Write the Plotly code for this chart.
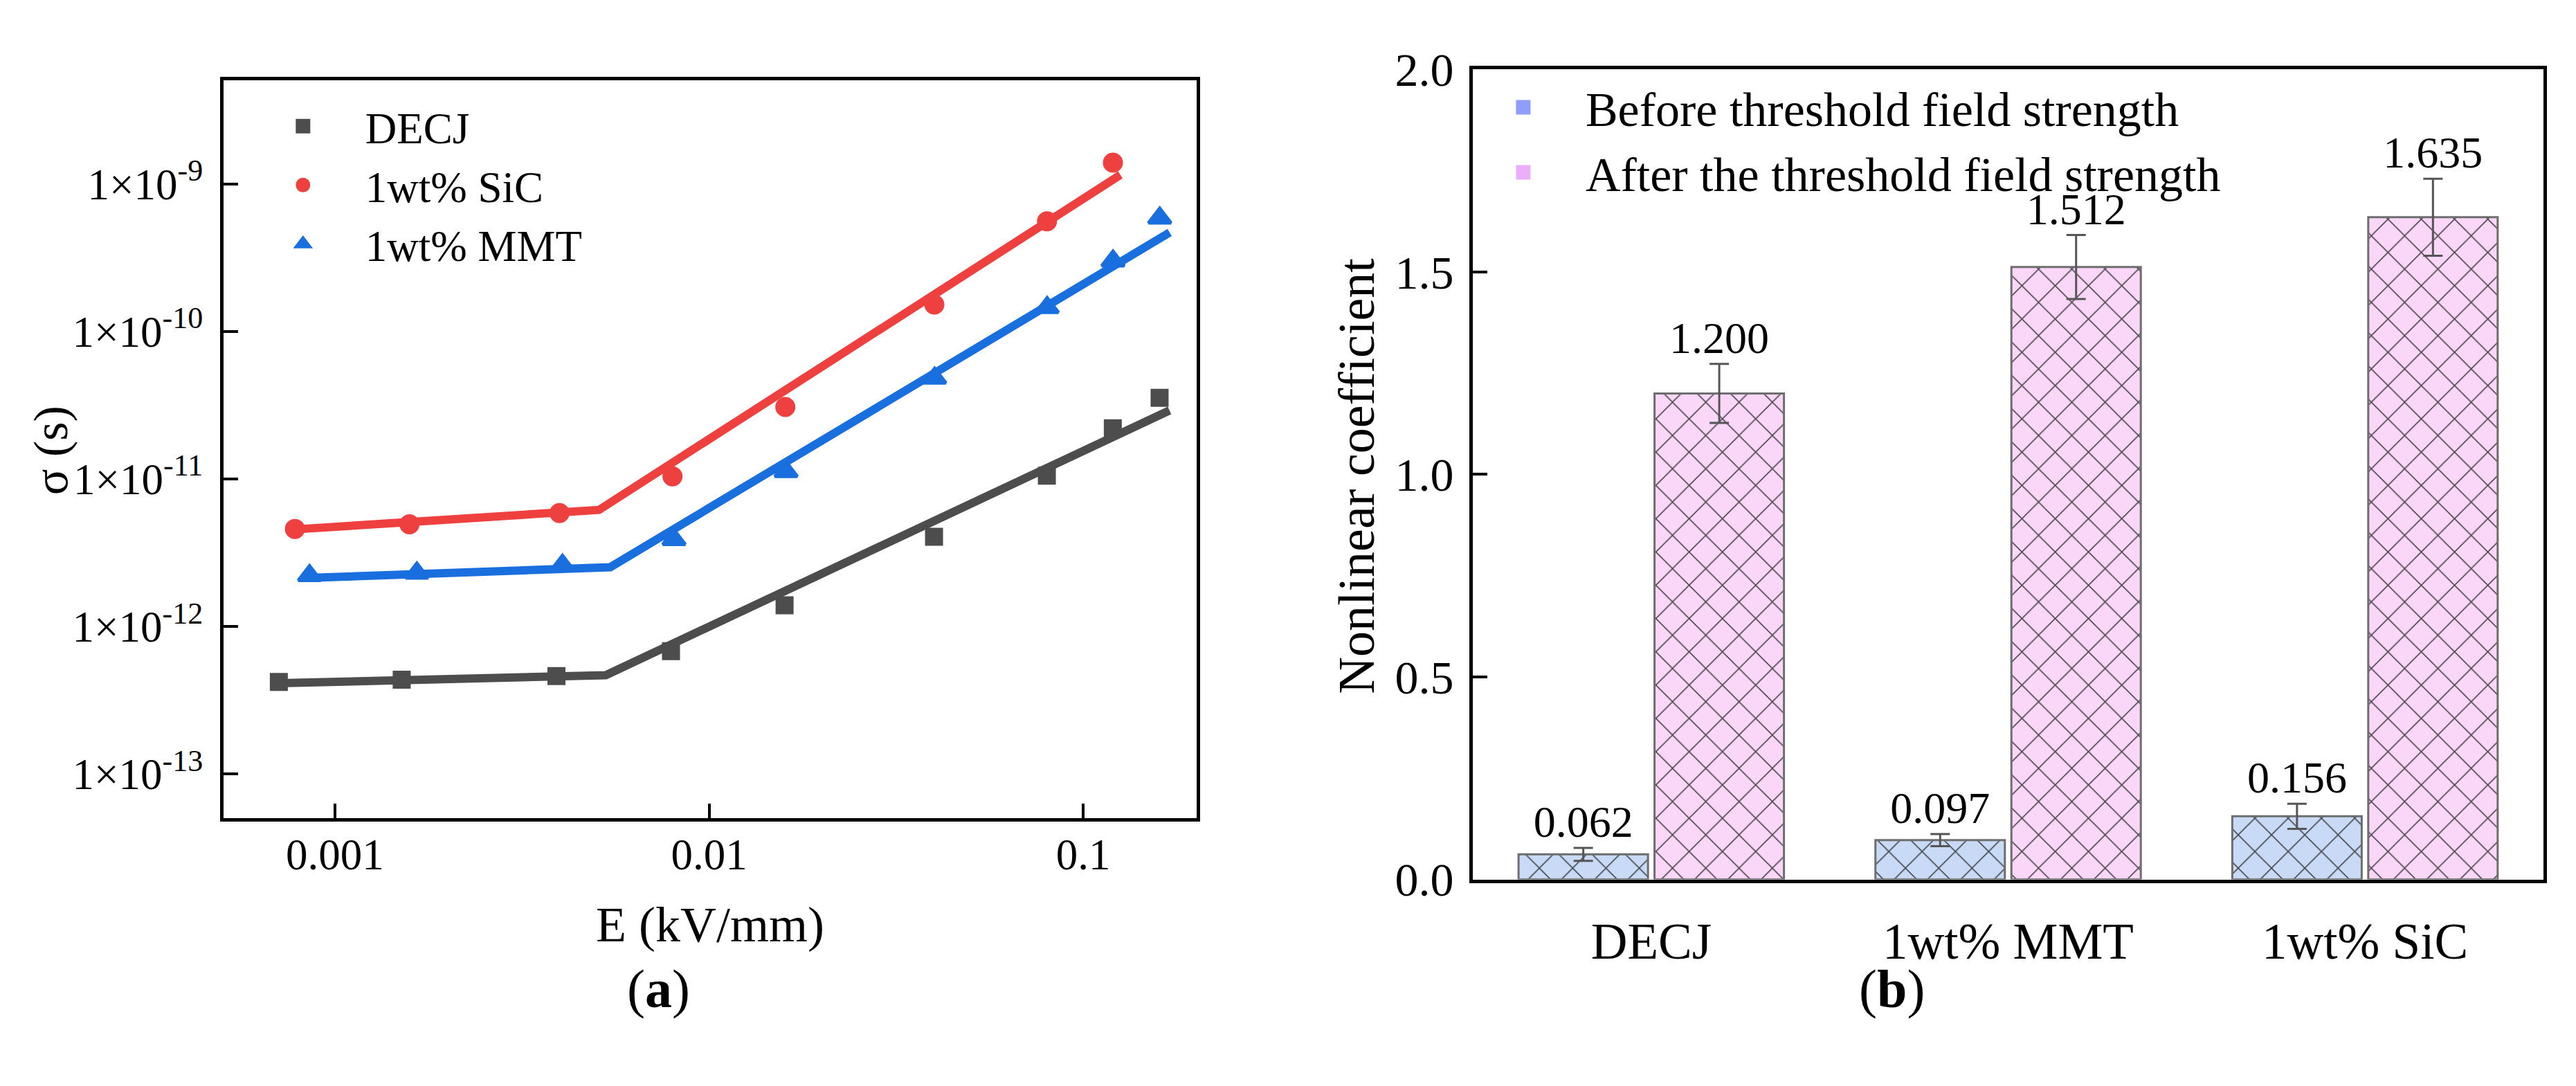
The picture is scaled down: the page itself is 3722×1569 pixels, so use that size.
import plotly.graph_objects as go

# (a) conductivity against field strength
E_kV_mm = [0.0008, 0.0016, 0.004, 0.008, 0.016, 0.04, 0.08, 0.12, 0.16]
sigma_DECJ = [4.2e-13, 4.35e-13, 4.6e-13, 6.8e-13, 1.39e-12, 4.05e-12, 1.05e-11, 2.2e-11, 3.54e-11]
E_SiC = [0.0008, 0.0016, 0.004, 0.008, 0.016, 0.04, 0.08, 0.12]
sigma_SiC = [4.58e-12, 4.92e-12, 5.86e-12, 1.04e-11, 3.07e-11, 1.52e-10, 5.57e-10, 1.39e-9]
sigma_MMT = [2.21e-12, 2.30e-12, 2.60e-12, 3.88e-12, 1.12e-11, 4.82e-11, 1.45e-10, 3.0e-10, 5.86e-10]

# two-segment fits: start, threshold, end
fit_E_DECJ = [0.0008, 0.00535, 0.17]
fit_sigma_DECJ = [4.13e-13, 4.67e-13, 2.91e-11]
fit_E_SiC = [0.0008, 0.00506, 0.1256]
fit_sigma_SiC = [4.58e-12, 6.16e-12, 1.15e-9]
fit_E_MMT = [0.0008, 0.00535, 0.17]
fit_sigma_MMT = [2.14e-12, 2.52e-12, 4.68e-10]

# (b) nonlinear coefficients
samples = ['DECJ', '1wt% MMT', '1wt% SiC']
before_threshold = [0.062, 0.097, 0.156]
before_threshold_err = [0.016, 0.015, 0.031]
after_threshold = [1.200, 1.512, 1.635]
after_threshold_err = [0.073, 0.079, 0.095]

FONT = 'Liberation Serif'
W, H = 3722, 1569

fig = go.Figure()

series_a = [
	('DECJ', E_kV_mm, sigma_DECJ, fit_E_DECJ, fit_sigma_DECJ, '#4d4d4d', 'square', 21),
	('1wt% SiC', E_SiC, sigma_SiC, fit_E_SiC, fit_sigma_SiC, '#ef4040', 'circle', 24),
	('1wt% MMT', E_kV_mm, sigma_MMT, fit_E_MMT, fit_sigma_MMT, '#1a6fdf', 'triangle-up', 28),
]
for name, x, y, fx, fy, color, symbol, size in series_a:
	fig.add_trace(go.Scatter(
		x = x, y = y, mode = 'markers', name = name,
		marker = dict(color=color, symbol=symbol, size=size, line=dict(color=color, width=5)),
		xaxis = 'x', yaxis = 'y', legend = 'legend',
	))
	fig.add_trace(go.Scatter(
		x = fx, y = fy, mode = 'lines', showlegend = False,
		line = dict(color=color, width=12),
		xaxis = 'x', yaxis = 'y',
	))

series_b = [
	('Before threshold field strength', before_threshold, before_threshold_err, '#c8daf5', '#8f9dfb', 'before'),
	('After the threshold field strength', after_threshold, after_threshold_err, '#fad6f8', '#ecaefa', 'after'),
]
for name, vals, errs, fill, swatch, group in series_b:
	fig.add_trace(go.Bar(
		x = samples, y = vals, offsetgroup = group, showlegend = False,
		error_y = dict(type='data', array=errs, color='#555555', thickness=3, width=14),
		marker = dict(
			color = fill,
			line = dict(color='#6e6e6e', width=3),
			pattern = dict(shape='x', size=34, solidity=0.09, fgcolor='#2e2e2e', fgopacity=0.85, bgcolor=fill),
		),
		xaxis = 'x2', yaxis = 'y2',
	))
	fig.add_trace(go.Scatter(
		x = samples, y = [v + e for v, e in zip(vals, errs)], offsetgroup = group,
		mode = 'text', text = [f'{v:.3f}' for v in vals], textposition = 'top center',
		textfont = dict(size=64, color='black'), showlegend = False, cliponaxis = False,
		xaxis = 'x2', yaxis = 'y2',
	))
	fig.add_trace(go.Scatter(
		x = [None], y = [None], offsetgroup = group, mode = 'markers', name = name,
		marker = dict(symbol='square', size=16, color=swatch, line=dict(color=swatch, width=5)),
		xaxis = 'x2', yaxis = 'y2', legend = 'legend2',
	))

axis_style = dict(
	showline = True, linewidth = 5, linecolor = 'black', mirror = True,
	showgrid = False, zeroline = False,
	ticks = 'inside', ticklen = 21, tickwidth = 4, tickcolor = 'black',
)

fig.update_layout(
	width = W, height = H,
	margin = dict(l=0, r=0, t=0, b=0),
	paper_bgcolor = 'white', plot_bgcolor = 'white',
	font = dict(family=FONT, size=64, color='black'),
	barmode = 'group', bargap = 0.238, bargroupgap = 0.048,
	scattermode = 'group', scattergap = 0.238,
	legend = dict(
		x = 0.0913, y = 0.9398, xanchor = 'left', yanchor = 'top',
		bgcolor = 'rgba(0,0,0,0)', font = dict(size=63), itemwidth = 170,
	),
	legend2 = dict(
		x = 0.565, y = 0.9611, xanchor = 'left', yanchor = 'top',
		bgcolor = 'rgba(0,0,0,0)', font = dict(size=70), itemwidth = 170,
	),
	xaxis = dict(
		axis_style, domain = [0.0846, 0.4624], anchor = 'y',
		type = 'log', range = [-3.298, -0.697],
		tickvals = [0.001, 0.01, 0.1], ticktext = ['0.001', '0.01', '0.1'],
		tickfont = dict(size=63), ticklabelstandoff = -7,
		title = dict(text='E (kV/mm)', font=dict(size=72), standoff=42),
	),
	yaxis = dict(
		axis_style, domain = [0.2384, 0.9522], anchor = 'x',
		type = 'log', range = [-13.3, -8.3],
		tickvals = [1e-13, 1e-12, 1e-11, 1e-10, 1e-9],
		ticktext = ['1×10<sup>-13</sup>', '1×10<sup>-12</sup>', '1×10<sup>-11</sup>', '1×10<sup>-10</sup>', '1×10<sup>-9</sup>'],
		tickfont = dict(size=63), ticklabelstandoff = 12,
	),
	xaxis2 = dict(
		axis_style, domain = [0.5696, 0.9852], anchor = 'y2',
		type = 'category', range = [-0.5, 2.5], ticks = '',
		tickfont = dict(size=73), ticklabelstandoff = 22,
	),
	yaxis2 = dict(
		axis_style, domain = [0.1791, 0.9630], anchor = 'x2',
		range = [0, 2], dtick = 0.5, tickformat = '.1f',
		tickfont = dict(size=68), ticklabelstandoff = 9,
	),
	annotations = [
		dict(text='σ (s)', x=0.0176, y=0.5943, xref='paper', yref='paper', textangle=-90,
			xanchor='center', yanchor='middle', showarrow=False, font=dict(size=70)),
		dict(text='Nonlinear coefficient', x=0.5245, y=0.5698, xref='paper', yref='paper', textangle=-90,
			xanchor='center', yanchor='middle', showarrow=False, font=dict(size=74)),
		dict(text='(<b>a</b>)', x=0.2408, y=0.0427, xref='paper', yref='paper', showarrow=False, font=dict(size=78)),
		dict(text='(<b>b</b>)', x=0.7456, y=0.0427, xref='paper', yref='paper', showarrow=False, font=dict(size=78)),
	],
)

fig.write_html('out.html')
